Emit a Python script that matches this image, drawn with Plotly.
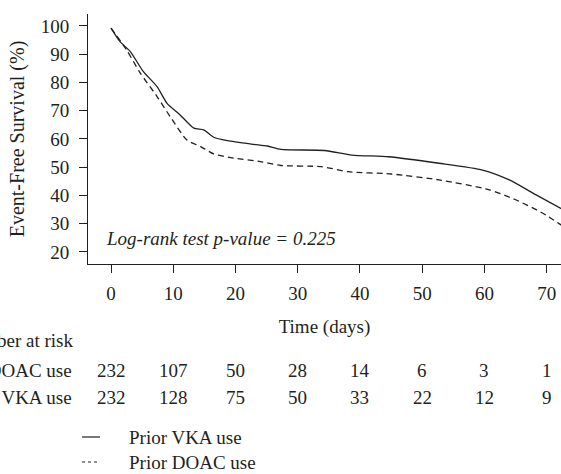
import plotly.graph_objects as go

# Survival curves (days, %)
vka_days = [0, 1.45, 3.1, 5.2, 7.4, 9.0, 11.1, 13.3, 14.9, 16.5, 18.7, 22.9, 25.1, 27.3, 34.3, 38.7, 44.6, 52.7, 59.7, 64.0, 68.3, 72.7]
vka_surv = [99.2, 94.4, 90.9, 83.8, 78.5, 72.6, 68.5, 63.8, 63.2, 60.6, 59.4, 58.1, 57.5, 56.3, 55.9, 54.3, 53.7, 51.4, 49.0, 45.5, 40.2, 34.9]

doac_days = [0, 2.5, 4.7, 7.4, 9.5, 12.2, 14.4, 16.5, 19.7, 24.0, 27.3, 33.8, 38.1, 45.0, 52.7, 60.8, 65.1, 69.4, 72.7]
doac_surv = [99.2, 91.5, 83.3, 75.0, 67.9, 59.6, 57.3, 54.7, 53.2, 52.0, 50.6, 50.2, 48.4, 47.6, 45.5, 42.0, 38.4, 33.7, 29.0]

# Number at risk
risk_times = [0, 10, 20, 30, 40, 50, 60, 70]
risk_doac = [232, 107, 50, 28, 14, 6, 3, 1]
risk_vka = [232, 128, 75, 50, 33, 22, 12, 9]

x_ticks = [0, 10, 20, 30, 40, 50, 60, 70]
y_ticks = [20, 30, 40, 50, 60, 70, 80, 90, 100]

series_names = ["Prior VKA use", "Prior DOAC use"]

FONT = "Liberation Serif"
FS = 19
INK = "#231f20"

fig = go.Figure()
fig.add_trace(go.Scatter(x=vka_days, y=vka_surv, mode="lines", name=series_names[0], showlegend=False,
                         line=dict(color=INK, width=1.3, shape="spline", smoothing=0.6)))
fig.add_trace(go.Scatter(x=doac_days, y=doac_surv, mode="lines", name=series_names[1], showlegend=False,
                         line=dict(color=INK, width=1.3, dash="6px,4px", shape="spline", smoothing=0.6)))

W, H = 561, 474
ml, mt, mb = 88, 14, 210
ph = H - mt - mb
pw = W - ml

def py(pix):
    return (H - mb - pix) / ph

def px(pix):
    return (pix - ml) / pw

def tfont(italic=False):
    return dict(family=FONT, size=FS, color=INK, style="italic" if italic else "normal")

ann = []
ann.append(dict(x=px(104), y=py(238), xref="paper", yref="paper", text="Log-rank test p-value = 0.225",
                showarrow=False, xanchor="left", yanchor="middle", font=tfont(True)))
ann.append(dict(x=px(75), y=py(340), xref="paper", yref="paper", text="Number at risk",
                showarrow=False, xanchor="right", yanchor="middle", font=tfont()))
ann.append(dict(x=px(74), y=py(370), xref="paper", yref="paper", text="Prior DOAC use",
                showarrow=False, xanchor="right", yanchor="middle", font=tfont()))
ann.append(dict(x=px(74), y=py(397), xref="paper", yref="paper", text="Prior VKA use",
                showarrow=False, xanchor="right", yanchor="middle", font=tfont()))
for t, a, b in zip(risk_times, risk_doac, risk_vka):
    ann.append(dict(x=t, y=py(370), xref="x", yref="paper", text=str(a), showarrow=False,
                    xanchor="center", yanchor="middle", font=tfont()))
    ann.append(dict(x=t, y=py(397), xref="x", yref="paper", text=str(b), showarrow=False,
                    xanchor="center", yanchor="middle", font=tfont()))

# manual legend
shapes = []
leg_y = [437, 462]
leg_dash = ["solid", "3px,3px"]
for name, yy, d in zip(series_names, leg_y, leg_dash):
    shapes.append(dict(type="line", xref="paper", yref="paper", x0=px(82), x1=px(100), y0=py(yy), y1=py(yy),
                       line=dict(color=INK, width=1.2, dash=d)))
    ann.append(dict(x=px(127), y=py(yy), xref="paper", yref="paper", text=name, showarrow=False,
                    xanchor="left", yanchor="middle", font=tfont()))

fig.update_layout(
    width=W, height=H,
    margin=dict(l=ml, r=0, t=mt, b=mb, autoexpand=False),
    paper_bgcolor="white", plot_bgcolor="white",
    font=dict(family=FONT, size=FS, color=INK),
    showlegend=False,
    annotations=ann,
    shapes=shapes,
    xaxis=dict(range=[-3.7, 72.3], tickmode="array", tickvals=x_ticks, ticks="outside", ticklen=8, tickwidth=1.4,
               automargin=False, tickcolor="#231f20", showline=True, linecolor=INK, linewidth=1, showgrid=False,
               zeroline=False, ticklabelstandoff=4,
               title=dict(text="Time (days)", standoff=16, font=dict(family=FONT, size=FS, color=INK)),
               tickfont=dict(family=FONT, size=FS, color=INK)),
    yaxis=dict(range=[15.75, 104.2], tickmode="array", tickvals=y_ticks, ticks="outside", ticklen=8, tickwidth=1,
               automargin=False, tickcolor=INK, showline=True, linecolor=INK, linewidth=1, showgrid=False,
               zeroline=False, ticklabelstandoff=6,
               title=dict(text="Event-Free Survival (%)", standoff=10, font=dict(family=FONT, size=20, color=INK)),
               tickfont=dict(family=FONT, size=FS, color=INK)),
)

fig.write_html("out.html", config={"displayModeBar": False},
               post_script="document.body.style.margin='0px';")
